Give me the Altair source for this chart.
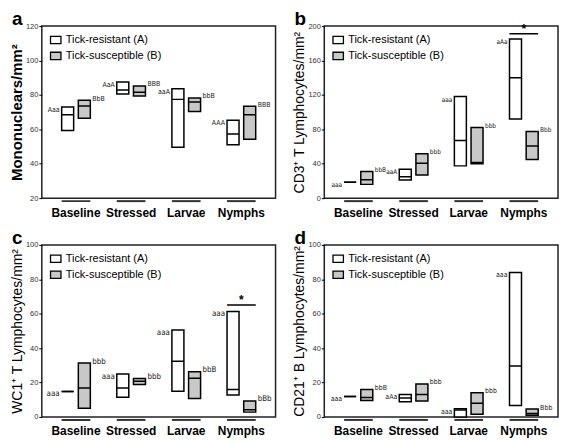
import altair as alt
import pandas as pd

stages = ["Baseline", "Stressed", "Larvae", "Nymphs"]
groups = ["Tick-resistant (A)", "Tick-susceptible (B)"]

# Panel a - Mononuclears
mono_res_lo = [59.3, 80.5, 49.6, 51.0]
mono_res_med = [68.4, 82.9, 77.4, 57.3]
mono_res_hi = [73.0, 87.5, 83.6, 65.3]
mono_sus_lo = [66.4, 79.3, 70.3, 54.2]
mono_sus_med = [73.6, 81.5, 75.9, 68.5]
mono_sus_hi = [76.9, 85.2, 78.2, 73.4]
mono_res_code = ["Aaa", "AaA", "aaA", "AAA"]
mono_sus_code = ["BbB", "BBB", "bbB", "BBB"]

# Panel b - CD3+ T lymphocytes
cd3_res_lo = [18.5, 21.0, 37.5, 92.0]
cd3_res_med = [18.5, 25.0, 67.0, 140.0]
cd3_res_hi = [18.5, 33.5, 118.0, 185.0]
cd3_sus_lo = [16.0, 27.0, 40.0, 45.0]
cd3_sus_med = [21.5, 40.5, 41.5, 60.5]
cd3_sus_hi = [31.0, 51.5, 82.0, 77.5]
cd3_res_code = ["aaa", "aaA", "aaa", "aAa"]
cd3_sus_code = ["bbB", "bbb", "bbb", "Bbb"]
cd3_star = [191.0]

# Panel c - WC1+ T lymphocytes
wc1_res_lo = [14.8, 11.4, 15.0, 12.7]
wc1_res_med = [14.8, 16.8, 32.4, 16.0]
wc1_res_hi = [14.8, 25.0, 50.6, 61.3]
wc1_sus_lo = [5.0, 18.8, 10.7, 2.8]
wc1_sus_med = [16.8, 20.8, 22.5, 4.2]
wc1_sus_hi = [31.3, 22.3, 26.2, 9.3]
wc1_res_code = ["aaa", "aaa", "aaa", "aaa"]
wc1_sus_code = ["bbb", "bbb", "bbB", "bBb"]
wc1_star = [65.0]

# Panel d - CD21+ B lymphocytes
cd21_res_lo = [11.9, 8.8, 0.0, 6.7]
cd21_res_med = [11.9, 11.0, 4.0, 29.6]
cd21_res_hi = [11.9, 13.1, 4.8, 84.0]
cd21_sus_lo = [9.6, 9.2, 1.5, 1.0]
cd21_sus_med = [11.3, 13.1, 7.9, 2.0]
cd21_sus_hi = [16.0, 19.2, 14.0, 4.6]
cd21_res_code = ["aaa", "aAa", "aaa", "aaa"]
cd21_sus_code = ["bbB", "bbb", "bbb", "Bbb"]

W, H = 235, 173
FONT = "Liberation Sans"
NARROW = "Liberation Sans Narrow, DejaVu Sans Condensed, Liberation Sans"


def panel(letter, title, res, sus, ydomain, yvalues, star=None,
          title_bold=False, title_size=14, code_size=8):
    df = pd.DataFrame({
        "stage": stages * 2,
        "group": [groups[0]] * 4 + [groups[1]] * 4,
        "lo": res[0] + sus[0],
        "med": res[1] + sus[1],
        "hi": res[2] + sus[2],
        "code": res[3] + sus[3],
    })
    xenc = alt.X("stage:N", sort=stages,
                 scale=alt.Scale(domain=stages, paddingInner=0.48, paddingOuter=0.36),
                 axis=alt.Axis(title=None, domain=False, ticks=False, labelAngle=0,
                               labelFontSize=12, labelFontWeight="bold",
                               labelColor="black", labelPadding=9))
    xoff = alt.XOffset("group:N",
                       scale=alt.Scale(domain=groups, paddingInner=0.28, paddingOuter=0))
    yscale = alt.Scale(domain=ydomain, nice=False, zero=False)
    yaxis = alt.Axis(values=yvalues, grid=False, domain=False, tickSize=3,
                     tickColor="black", labelFontSize=7.5, labelColor="#333",
                     labelPadding=1, title=title, titleFontSize=title_size,
                     titleFontWeight="bold" if title_bold else "normal",
                     titleColor="black", titlePadding=1)

    def Y(f):
        return alt.Y(f + ":Q", scale=yscale, axis=yaxis)

    base = alt.Chart(df)
    color = alt.Color("group:N",
                      scale=alt.Scale(domain=groups, range=["white", "#c8c8c8"]),
                      legend=alt.Legend(title=None, orient="top-left", offset=8,
                                        symbolType="M-1,-0.7L1,-0.7L1,0.7L-1,0.7Z",
                                        symbolSize=110, symbolStrokeColor="black",
                                        symbolStrokeWidth=1.3, labelFontSize=11,
                                        labelColor="black", rowPadding=2))
    boxes = base.mark_bar(stroke="black", strokeWidth=1.5).encode(
        x=xenc, xOffset=xoff, y=Y("lo"), y2="hi:Q", color=color)
    meds = base.mark_bar(stroke="black", strokeWidth=1.5, fillOpacity=0).encode(
        x=xenc, xOffset=xoff, y=Y("med"), y2="med:Q")
    codes_a = base.transform_filter(alt.datum.group == groups[0]).mark_text(
        align="right", baseline="middle", dx=-8, dy=3, fontSize=code_size,
        font=NARROW, color="#222"
    ).encode(x=xenc, xOffset=xoff, y=Y("hi"), text="code:N")
    codes_b = base.transform_filter(alt.datum.group == groups[1]).mark_text(
        align="left", baseline="middle", dx=8, dy=-1.5, fontSize=code_size,
        font=NARROW, color="#222"
    ).encode(x=xenc, xOffset=xoff, y=Y("hi"), text="code:N")
    under = alt.Chart(pd.DataFrame({"stage": stages})).mark_bar(color="#333").encode(
        x=xenc, y=alt.value(H + 2), y2=alt.value(H + 4))
    lab = alt.Chart(pd.DataFrame({"letter": [letter]})).mark_text(
        align="left", baseline="alphabetic", fontSize=19, fontWeight="bold", color="black"
    ).encode(x=alt.value(-30), y=alt.value(-1), text="letter:N")
    layers = [boxes, meds, codes_a, codes_b, under]
    if star is not None:
        sdf = pd.DataFrame({"stage": ["Nymphs"], "s": star, "t": ["*"]})
        layers.append(alt.Chart(sdf).mark_bar(stroke="black", strokeWidth=1.5,
                                              fillOpacity=0).encode(
            x=xenc, y=Y("s"), y2="s:Q"))
        layers.append(alt.Chart(sdf).mark_text(fontSize=12, fontWeight="bold",
                                               dy=-5, color="black").encode(
            x=xenc, y=Y("s"), text="t:N"))
    layers.append(lab)
    return alt.layer(*layers).properties(width=W, height=H)


pa = panel("a", "Mononuclears/mm²",
           [mono_res_lo, mono_res_med, mono_res_hi, mono_res_code],
           [mono_sus_lo, mono_sus_med, mono_sus_hi, mono_sus_code],
           [20, 120], [20, 40, 60, 80, 100, 120], title_bold=True, title_size=15,
           code_size=7)
pb = panel("b", "CD3⁺ T Lymphocytes/mm²",
           [cd3_res_lo, cd3_res_med, cd3_res_hi, cd3_res_code],
           [cd3_sus_lo, cd3_sus_med, cd3_sus_hi, cd3_sus_code],
           [0, 200], [0, 40, 80, 120, 160, 200], star=cd3_star, code_size=6.5)
pc = panel("c", "WC1⁺ T Lymphocytes/mm²",
           [wc1_res_lo, wc1_res_med, wc1_res_hi, wc1_res_code],
           [wc1_sus_lo, wc1_sus_med, wc1_sus_hi, wc1_sus_code],
           [0, 100], [0, 20, 40, 60, 80, 100], star=wc1_star)
pd_ = panel("d", "CD21⁺ B Lymphocytes/mm²",
            [cd21_res_lo, cd21_res_med, cd21_res_hi, cd21_res_code],
            [cd21_sus_lo, cd21_sus_med, cd21_sus_hi, cd21_sus_code],
            [0, 100], [0, 20, 40, 60, 80, 100], code_size=7)

chart = alt.concat(pa, pb, pc, pd_, columns=2,
                   spacing={"row": 9, "column": 15}).resolve_scale(
    x="independent", y="independent", color="independent", xOffset="independent"
).resolve_legend(color="independent").properties(padding=0).configure(
    font=FONT).configure_view(stroke="#222", strokeWidth=1.5)

chart.save("out.html", embed_options={"renderer": "svg", "actions": False})
